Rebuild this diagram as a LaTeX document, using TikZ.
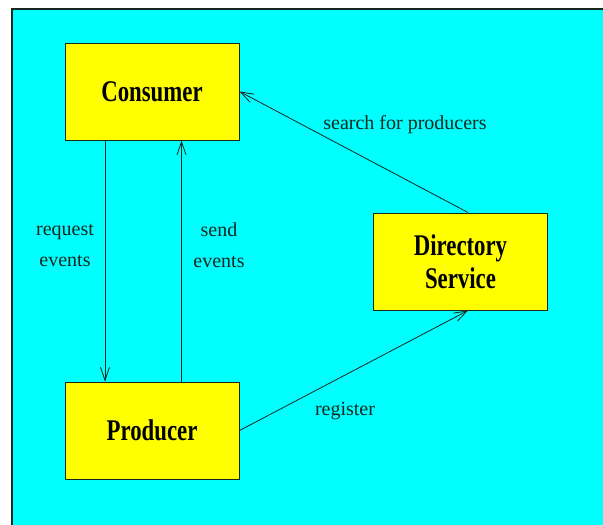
\documentclass[tikz,border=0pt]{standalone}
\usepackage{fontspec}
\setmainfont{Liberation Serif}
\newfontfamily\boxfont{Liberation Serif}[FakeStretch=0.76]
\usetikzlibrary{arrows.meta}
\definecolor{bgcyan}{RGB}{0,255,255}
\definecolor{boxyellow}{RGB}{255,255,0}
\definecolor{edgedark}{RGB}{20,40,30}
\tikzset{
  entity/.style={draw=edgedark, line width=1pt, fill=boxyellow, minimum width=174pt, minimum height=97pt, inner sep=0pt, align=center, font=\boxfont\bfseries\fontsize{30}{33}\selectfont},
  link/.style={draw=edgedark, line width=0.8pt, -{Straight Barb[length=13pt,width=9pt,line width=0.8pt]}},
  lbl/.style={font=\fontsize{20}{31}\selectfont, text=edgedark, align=center, inner sep=0pt},
}
\begin{document}
\begin{tikzpicture}[x=1pt,y=-1pt]
\useasboundingbox (0,0) rectangle (603,525);
\fill[white] (0,0) rectangle (603,525);
\fill[bgcyan] (12,9) rectangle (603,525);
\draw[edgedark, line width=1.2pt] (12,525) -- (12,9) -- (603,9);
\node[entity] (c) at (152,91.5) {Consumer};
\node[entity] (p) at (152,430.5) {Producer};
\node[entity] (d) at (460.5,261.5) {Directory\\Service};
\draw[link] ([xshift=-47pt]c.south) -- ([xshift=-47pt]p.north);
\draw[link] ([xshift=29.5pt]p.north) -- ([xshift=29.5pt]c.south);
\draw[link] ([xshift=7.5pt]d.north) -- (c.east);
\draw[link] (p.east) -- ([xshift=7.5pt]d.south);
\node[lbl] (lreq) at (65,245) {request\\events};
\node[lbl] (lsend) at (219,245) {send\\events};
\node[lbl] (lsearch) at (405,125) {search for producers};
\node[lbl] (lreg) at (345,411) {register};
\end{tikzpicture}
\end{document}
